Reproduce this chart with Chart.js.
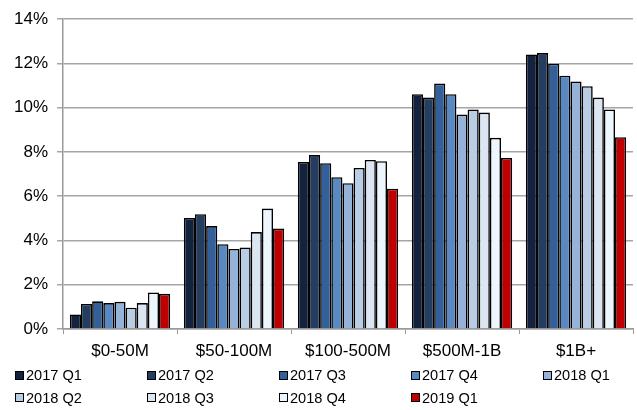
<!DOCTYPE html>
<html>
<head>
<meta charset="utf-8">
<script src="https://cdn.jsdelivr.net/npm/chart.js@4/dist/chart.umd.min.js"></script>
<style>
  html, body { margin: 0; padding: 0; background: #fff; }
  #wrap { position: relative; width: 637px; height: 410px; }
  #c { position: absolute; left: 0; top: 0; }
  #legend { position: absolute; left: 15px; top: 366px; width: 622px;
    display: grid; grid-template-columns: repeat(5, 132px); row-gap: 4.5px;
    font-family: "Liberation Sans", Arial, sans-serif; font-size: 14.6px; color: #000; }
  .item { display: flex; align-items: center; height: 18px; white-space: nowrap; }
  .box { width: 7px; height: 7px; border: 1px solid #000; margin-right: 2px; }
</style>
</head>
<body>
<div id="wrap">
  <canvas id="c" width="637" height="410"></canvas>
  <div id="legend"></div>
</div>
<script>
const categories = ["$0-50M", "$50-100M", "$100-500M", "$500M-1B", "$1B+"];
const seriesNames = ["2017 Q1", "2017 Q2", "2017 Q3", "2017 Q4", "2018 Q1", "2018 Q2", "2018 Q3", "2018 Q4", "2019 Q1"];
const s2017Q1 = [0.66, 5.02, 7.55, 10.61, 12.41];
const s2017Q2 = [1.13, 5.19, 7.86, 10.46, 12.47];
const s2017Q3 = [1.25, 4.65, 7.49, 11.09, 11.99];
const s2017Q4 = [1.17, 3.83, 6.86, 10.61, 11.45];
const s2018Q1 = [1.23, 3.62, 6.59, 9.69, 11.18];
const s2018Q2 = [0.96, 3.68, 7.28, 9.92, 10.97];
const s2018Q3 = [1.17, 4.38, 7.64, 9.78, 10.46];
const s2018Q4 = [1.65, 5.44, 7.58, 8.64, 9.92];
const s2019Q1 = [1.59, 4.54, 6.34, 7.73, 8.67];
const yTicks = [0, 2, 4, 6, 8, 10, 12, 14];

const seriesValues = [s2017Q1, s2017Q2, s2017Q3, s2017Q4, s2018Q1, s2018Q2, s2018Q3, s2018Q4, s2019Q1];
const colors = ["#13233f", "#243e61", "#34609a", "#5a88c1", "#95b3d8", "#b9cde5", "#dce6f2", "#eef6fd", "#c00000"];

const datasets = seriesNames.map((n, i) => ({
  label: n,
  data: seriesValues[i],
  backgroundColor: colors[i],
  borderColor: "#000",
  borderWidth: 1.6,
  borderSkipped: "bottom",
  categoryPercentage: 0.88,
  barPercentage: 1.0
}));

Chart.defaults.font.family = '"Liberation Sans", Arial, sans-serif';
Chart.defaults.font.size = 17;
Chart.defaults.color = "#000";

new Chart(document.getElementById("c"), {
  type: "bar",
  data: { labels: categories, datasets },
  options: {
    responsive: false,
    animation: false,
    devicePixelRatio: 1,
    layout: { padding: { top: 15, right: 4, left: 0, bottom: 0 } },
    plugins: { legend: { display: false }, tooltip: { enabled: false } },
    scales: {
      x: {
        afterFit: (s) => { s.height = 81; },
        grid: { offset: true, drawOnChartArea: false, color: "#999", tickLength: 5, lineWidth: 1 },
        border: { color: "#999", width: 1.5 },
        ticks: { padding: 7, maxRotation: 0, autoSkip: false, font: { size: 17 } }
      },
      y: {
        min: 0, max: 14,
        afterFit: (s) => { s.width = 63; },
        afterBuildTicks: (s) => { s.ticks = yTicks.map(v => ({ value: v })); },
        grid: { color: "#a6a6a6", tickLength: 6, lineWidth: 1.5 },
        border: { color: "#999", width: 1.5 },
        ticks: { padding: 9, callback: (v) => v + "%", font: { size: 17 } }
      }
    }
  }
});

const leg = document.getElementById("legend");
seriesNames.forEach((n, i) => {
  const it = document.createElement("div");
  it.className = "item";
  const b = document.createElement("span");
  b.className = "box";
  b.style.background = colors[i];
  const t = document.createElement("span");
  t.textContent = n;
  it.appendChild(b); it.appendChild(t);
  leg.appendChild(it);
});
</script>
</body>
</html>
